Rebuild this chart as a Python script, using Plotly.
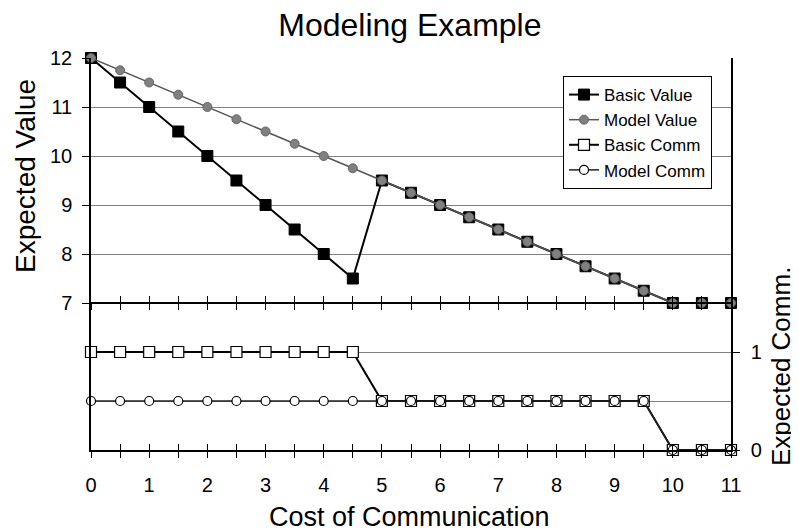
import plotly.graph_objects as go

cost = [0, 0.5, 1, 1.5, 2, 2.5, 3, 3.5, 4, 4.5, 5, 5.5, 6, 6.5, 7, 7.5, 8, 8.5, 9, 9.5, 10, 10.5, 11]
basic_value = [12, 11.5, 11, 10.5, 10, 9.5, 9, 8.5, 8, 7.5, 9.5, 9.25, 9, 8.75, 8.5, 8.25, 8, 7.75, 7.5, 7.25, 7, 7, 7]
model_value = [12, 11.75, 11.5, 11.25, 11, 10.75, 10.5, 10.25, 10, 9.75, 9.5, 9.25, 9, 8.75, 8.5, 8.25, 8, 7.75, 7.5, 7.25, 7, 7, 7]
basic_comm = [1, 1, 1, 1, 1, 1, 1, 1, 1, 1, 0.5, 0.5, 0.5, 0.5, 0.5, 0.5, 0.5, 0.5, 0.5, 0.5, 0, 0, 0]
model_comm = [0.5, 0.5, 0.5, 0.5, 0.5, 0.5, 0.5, 0.5, 0.5, 0.5, 0.5, 0.5, 0.5, 0.5, 0.5, 0.5, 0.5, 0.5, 0.5, 0.5, 0, 0, 0]

value_ticks = [7, 8, 9, 10, 11, 12]
value_extra_grid = [5, 6]
comm_ticks = [0, 1]
comm_labels = ["0", "1"]

FONT = "Liberation Sans, Arial, Helvetica, sans-serif"

fig = go.Figure()

fig.add_trace(go.Scatter(
    x=cost, y=basic_value, name="Basic Value", mode="lines+markers",
    line=dict(color="black", width=2),
    marker=dict(symbol="square", size=11, color="black", line=dict(color="black", width=1)),
    cliponaxis=False))
fig.add_trace(go.Scatter(
    x=cost, y=model_value, name="Model Value", mode="lines+markers",
    line=dict(color="#555555", width=1.5),
    marker=dict(symbol="circle", size=9, color="#808080", line=dict(color="#666666", width=1)),
    cliponaxis=False))
fig.add_trace(go.Scatter(
    x=cost, y=basic_comm, name="Basic Comm", mode="lines+markers", yaxis="y2",
    line=dict(color="black", width=2),
    marker=dict(symbol="square", size=11, color="white", line=dict(color="black", width=1.2)),
    cliponaxis=False))
fig.add_trace(go.Scatter(
    x=cost, y=model_comm, name="Model Comm", mode="lines+markers", yaxis="y2",
    line=dict(color="#222222", width=1.5),
    marker=dict(symbol="circle", size=9, color="white", line=dict(color="black", width=1.2)),
    cliponaxis=False))

# empty helper traces so that overlay axes render
for ax in ["x2", "x3", "x4"]:
    fig.add_trace(go.Scatter(x=[], y=[], xaxis=ax, yaxis="y", showlegend=False, hoverinfo="skip"))

xbase = dict(range=[0, 11], showgrid=False, zeroline=False, showline=True,
             linecolor="black", linewidth=1.5, tickcolor="black", tickwidth=1,
             dtick=1, tick0=0, ticklen=6,
             minor=dict(dtick=0.5, tick0=0, ticklen=6, tickcolor="black", tickwidth=1))

fig.update_layout(
    width=799, height=531,
    margin=dict(l=83, r=76, t=50, b=89),
    paper_bgcolor="white", plot_bgcolor="white",
    font=dict(family=FONT, color="black"),
    title=dict(text="Modeling Example", x=0.503, xanchor="center", y=0.968, yanchor="middle",
               font=dict(size=32, family=FONT, color="black")),
    xaxis=dict(**xbase, ticks="outside", minor_ticks="outside", ticklabelstandoff=10,
               tickfont=dict(size=20, family=FONT, color="black")),
    xaxis3=dict(**xbase, overlaying="x", anchor="y", side="bottom",
                ticks="inside", minor_ticks="inside", showticklabels=False),
    xaxis2=dict(**xbase, overlaying="x", anchor="free", position=0.375, side="bottom",
                ticks="outside", minor_ticks="outside", showticklabels=False),
    xaxis4=dict(**xbase, overlaying="x", anchor="free", position=0.375, side="bottom",
                ticks="inside", minor_ticks="inside", showticklabels=False),
    yaxis=dict(range=[4, 12], tickvals=value_ticks,
               showgrid=True, gridcolor="#808080", gridwidth=1, zeroline=False,
               showline=True, linecolor="black", linewidth=1.5,
               ticks="outside", ticklen=7, tickcolor="black", ticklabelstandoff=6,
               minor=dict(tickvals=value_extra_grid, showgrid=True, gridcolor="#808080",
                          gridwidth=1, ticks=""),
               tickfont=dict(size=20, family=FONT, color="black")),
    yaxis2=dict(range=[0, 4], overlaying="y", side="right", anchor="x",
                tickvals=comm_ticks, ticktext=comm_labels,
                showgrid=False, zeroline=False, showline=True, linecolor="black", linewidth=1.5,
                ticks="outside", ticklen=7, tickcolor="black", ticklabelstandoff=7,
                tickfont=dict(size=20, family=FONT, color="black")),
    legend=dict(x=0.7375, y=0.954, xanchor="left", yanchor="top",
                bgcolor="white", bordercolor="black", borderwidth=1,
                font=dict(size=17, family=FONT, color="black"),
                tracegroupgap=0, itemwidth=30),
    showlegend=True,
)

fig.add_annotation(text="Expected Value", xref="paper", yref="paper", x=-0.1016, y=0.699,
                   textangle=-90, showarrow=False, xanchor="center", yanchor="middle",
                   font=dict(size=28, family=FONT, color="black"))
fig.add_annotation(text="Expected Comm.", xref="paper", yref="paper", x=1.078, y=0.214,
                   textangle=-90, showarrow=False, xanchor="center", yanchor="middle",
                   font=dict(size=26, family=FONT, color="black"))
fig.add_annotation(text="Cost of Communication", xref="paper", yref="paper", x=0.497, y=-0.172,
                   showarrow=False, xanchor="center", yanchor="middle",
                   font=dict(size=27, family=FONT, color="black"))

fig.write_html("out.html")
